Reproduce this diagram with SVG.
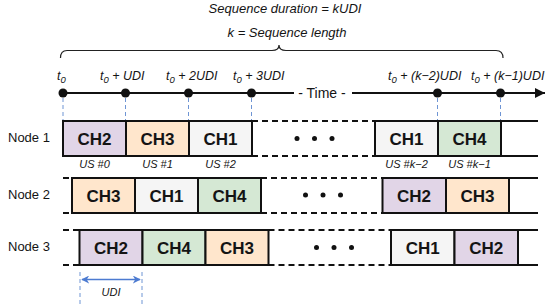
<svg xmlns="http://www.w3.org/2000/svg" width="550" height="306" viewBox="0 0 550 306">
<style>
text{font-family:"Liberation Sans",Arial,sans-serif;fill:#141414}
.ttl{font-size:13px;font-style:italic}
.tl{font-size:12.5px;font-style:italic}
.sub{font-size:9.5px}
.ch{font-size:17px;font-weight:bold;text-anchor:middle}
.us{font-size:11px;font-style:italic;text-anchor:middle}
.nl{font-size:13px}
.box{stroke:#111;stroke-width:2}
.c1{fill:#f5f5f5}.c2{fill:#e1d5e7}.c3{fill:#ffe6cc}.c4{fill:#d5e8d4}
.sl{stroke:#111;stroke-width:2;fill:none}
.dl{stroke:#111;stroke-width:2;stroke-dasharray:6 4;fill:none}
.tick{stroke:#6f95d4;stroke-width:1;stroke-dasharray:4 3}
.dot{fill:#111}
.ell{fill:#111}
</style>
<defs>
<marker id="ah" viewBox="0 0 10 10" refX="10" refY="5" markerWidth="10" markerHeight="10" markerUnits="userSpaceOnUse" orient="auto"><path d="M0,0 L10,5 L0,10 Z" fill="#111"/></marker>
<marker id="ba" viewBox="0 0 10 10" refX="9" refY="5" markerWidth="8" markerHeight="8" markerUnits="userSpaceOnUse" orient="auto-start-reverse"><path d="M0,0 L10,5 L0,10 L3,5 Z" fill="#4d7bd1"/></marker>
</defs>

<g id="header">
<text class="ttl" x="285" y="13" text-anchor="middle">Sequence duration = kUDI</text>
<text class="ttl" x="287" y="37" text-anchor="middle">k = Sequence length</text>
<path d="M60.5,58 Q60.5,50.5 67,50.5 L272,50.5 Q279,50.5 279,45 Q279,50.5 286,50.5 L496,50.5 Q503,50.5 503,58" fill="none" stroke="#222" stroke-width="1.2"/>
</g>

<g id="timeline">
<line class="sl" x1="63" y1="93" x2="294" y2="93"/>
<line class="sl" x1="352" y1="93" x2="545" y2="93" marker-end="url(#ah)"/>
<text x="322" y="98" font-size="14" text-anchor="middle">- Time -</text>
<circle class="dot" cx="63" cy="93" r="4.5"/>
<circle class="dot" cx="125.5" cy="93" r="4.5"/>
<circle class="dot" cx="188.5" cy="93" r="4.5"/>
<circle class="dot" cx="251.5" cy="93" r="4.5"/>
<circle class="dot" cx="437.5" cy="93" r="4.5"/>
<circle class="dot" cx="500.5" cy="93" r="4.5"/>
<text class="tl" x="57" y="80">t<tspan class="sub" dy="3">0</tspan></text>
<text class="tl" x="100" y="80">t<tspan class="sub" dy="3">0</tspan><tspan dy="-3"> + UDI</tspan></text>
<text class="tl" x="166" y="80">t<tspan class="sub" dy="3">0</tspan><tspan dy="-3"> + 2UDI</tspan></text>
<text class="tl" x="233" y="80">t<tspan class="sub" dy="3">0</tspan><tspan dy="-3"> + 3UDI</tspan></text>
<text class="tl" x="388" y="80">t<tspan class="sub" dy="3">0</tspan><tspan dy="-3"> + (k−2)UDI</tspan></text>
<text class="tl" x="471" y="80">t<tspan class="sub" dy="3">0</tspan><tspan dy="-3"> + (k−1)UDI</tspan></text>
</g>

<g id="connectors">
<line class="tick" x1="63" y1="98" x2="63" y2="120"/>
<line class="tick" x1="125.5" y1="98" x2="125.5" y2="120"/>
<line class="tick" x1="188.5" y1="98" x2="188.5" y2="120"/>
<line class="tick" x1="251.5" y1="98" x2="251.5" y2="120"/>
<line class="tick" x1="437.5" y1="98" x2="437.5" y2="120"/>
<line class="tick" x1="500.5" y1="98" x2="500.5" y2="120"/>
</g>

<g id="node1">
<text class="nl" x="8" y="142">Node 1</text>
<line class="dl" x1="252" y1="121" x2="375" y2="121"/>
<line class="dl" x1="252" y1="156" x2="375" y2="156"/>
<line class="sl" x1="501" y1="121" x2="538" y2="121"/>
<line class="sl" x1="501" y1="156" x2="538" y2="156"/>
<rect class="box c2" x="63" y="121" width="63" height="35"/>
<rect class="box c3" x="126" y="121" width="63" height="35"/>
<rect class="box c1" x="189" y="121" width="63" height="35"/>
<rect class="box c1" x="375" y="121" width="63" height="35"/>
<rect class="box c4" x="438" y="121" width="63" height="35"/>
<text class="ch" x="94.5" y="145">CH2</text>
<text class="ch" x="157.5" y="145">CH3</text>
<text class="ch" x="220.5" y="145">CH1</text>
<text class="ch" x="406.5" y="145">CH1</text>
<text class="ch" x="469.5" y="145">CH4</text>
<circle class="ell" cx="297" cy="138.5" r="2.5"/>
<circle class="ell" cx="314.5" cy="138.5" r="2.5"/>
<circle class="ell" cx="332" cy="138.5" r="2.5"/>
<text class="us" x="94.5" y="168">US #0</text>
<text class="us" x="157.5" y="168">US #1</text>
<text class="us" x="220.5" y="168">US #2</text>
<text class="us" x="406.5" y="168">US #k−2</text>
<text class="us" x="469.5" y="168">US #k−1</text>
</g>

<g id="node2">
<text class="nl" x="8" y="199">Node 2</text>
<line class="dl" x1="63" y1="178" x2="72" y2="178"/>
<line class="dl" x1="63" y1="213" x2="72" y2="213"/>
<line class="dl" x1="261" y1="178" x2="382.5" y2="178"/>
<line class="dl" x1="261" y1="213" x2="382.5" y2="213"/>
<line class="sl" x1="509" y1="178" x2="538" y2="178"/>
<line class="sl" x1="509" y1="213" x2="538" y2="213"/>
<rect class="box c3" x="72" y="178" width="63" height="35"/>
<rect class="box c1" x="135" y="178" width="63" height="35"/>
<rect class="box c4" x="198" y="178" width="63" height="35"/>
<rect class="box c2" x="382.5" y="178" width="63.5" height="35"/>
<rect class="box c3" x="446" y="178" width="63" height="35"/>
<text class="ch" x="103.5" y="202">CH3</text>
<text class="ch" x="166.5" y="202">CH1</text>
<text class="ch" x="229.5" y="202">CH4</text>
<text class="ch" x="414" y="202">CH2</text>
<text class="ch" x="477.5" y="202">CH3</text>
<circle class="ell" cx="305.5" cy="195" r="2.5"/>
<circle class="ell" cx="323" cy="195" r="2.5"/>
<circle class="ell" cx="340.5" cy="195" r="2.5"/>
</g>

<g id="node3">
<text class="nl" x="8" y="251">Node 3</text>
<line class="dl" x1="63" y1="230" x2="79.5" y2="230"/>
<line class="dl" x1="63" y1="265" x2="79.5" y2="265"/>
<line class="dl" x1="268.5" y1="230" x2="391" y2="230"/>
<line class="dl" x1="268.5" y1="265" x2="391" y2="265"/>
<line class="sl" x1="518" y1="230" x2="538" y2="230"/>
<line class="sl" x1="518" y1="265" x2="538" y2="265"/>
<rect class="box c2" x="79.5" y="230" width="63" height="35"/>
<rect class="box c4" x="142.5" y="230" width="63" height="35"/>
<rect class="box c3" x="205.5" y="230" width="63" height="35"/>
<rect class="box c1" x="391" y="230" width="63.5" height="35"/>
<rect class="box c2" x="454.5" y="230" width="63.5" height="35"/>
<text class="ch" x="111" y="254">CH2</text>
<text class="ch" x="174" y="254">CH4</text>
<text class="ch" x="237" y="254">CH3</text>
<text class="ch" x="422.75" y="254">CH1</text>
<text class="ch" x="486.25" y="254">CH2</text>
<circle class="ell" cx="316.5" cy="247.5" r="2.5"/>
<circle class="ell" cx="334" cy="247.5" r="2.5"/>
<circle class="ell" cx="351.5" cy="247.5" r="2.5"/>
</g>

<g id="udi">
<line class="tick" x1="80" y1="272" x2="80" y2="305"/>
<line class="tick" x1="142" y1="272" x2="142" y2="305"/>
<line x1="82" y1="279.5" x2="140" y2="279.5" stroke="#4d7bd1" stroke-width="1.5" marker-start="url(#ba)" marker-end="url(#ba)"/>
<text class="us" x="111" y="296">UDI</text>
</g>
</svg>
